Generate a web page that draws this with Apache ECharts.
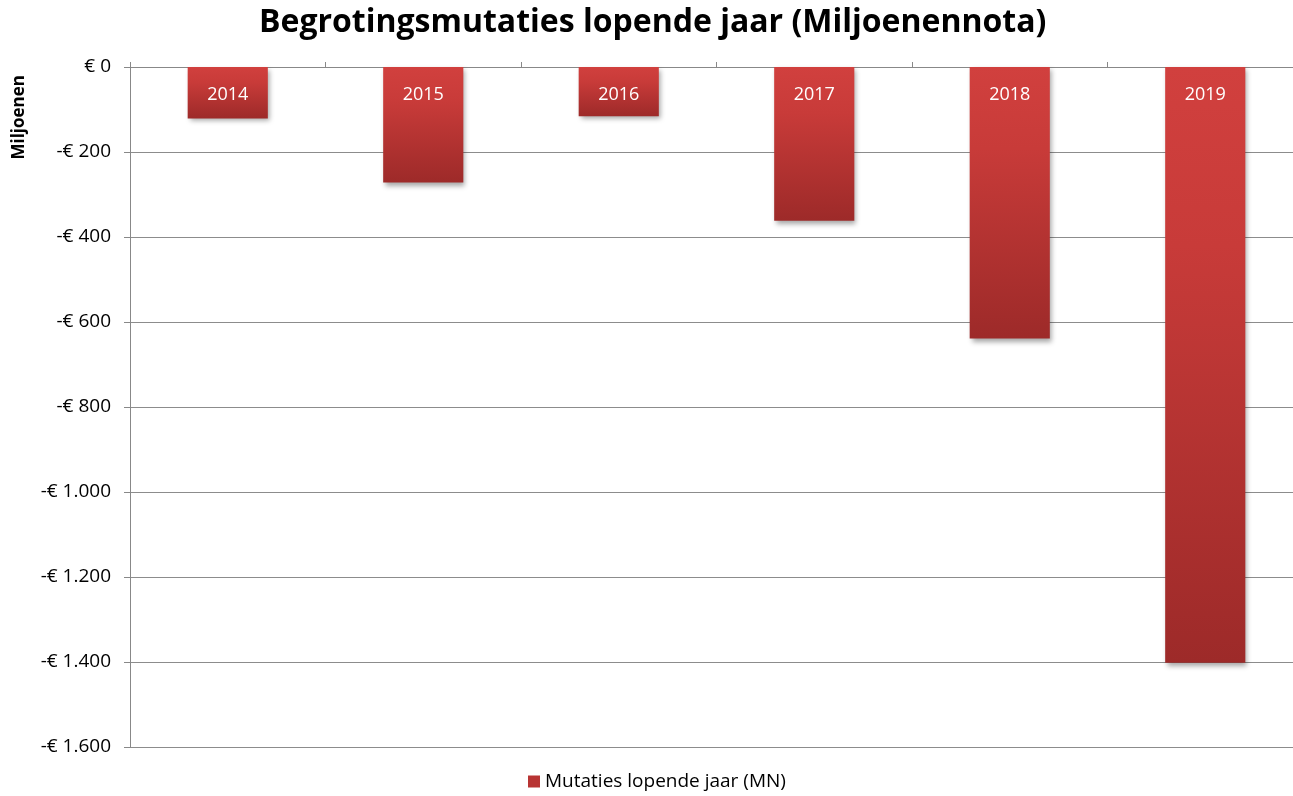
<!DOCTYPE html>
<html>
<head>
<meta charset="utf-8">
<script src="https://cdn.jsdelivr.net/npm/echarts@6/dist/echarts.min.js"></script>
<style>
html,body{margin:0;padding:0;background:#fff;}
#chart{width:1293px;height:796px;}
</style>
</head>
<body>
<div id="chart"></div>
<script>
const categories = ['2014', '2015', '2016', '2017', '2018', '2019'];
const mutaties = [-121, -272, -116, -362, -639, -1402];
const seriesName = 'Mutaties lopende jaar (MN)';
const titleText = 'Begrotingsmutaties lopende jaar (Miljoenennota)';
const yAxisName = 'Miljoenen';

function fmt(v) {
  if (v === 0) return '€ 0';
  const a = Math.abs(v);
  const s = a >= 1000 ? Math.floor(a / 1000) + '.' + String(a % 1000).padStart(3, '0') : String(a);
  return (v < 0 ? '-' : '') + '€ ' + s;
}

const chart = echarts.init(document.getElementById('chart'));
const barColor = new echarts.graphic.LinearGradient(0, 0, 0, 1, [
  { offset: 0, color: '#D1403E' },
  { offset: 0.3, color: '#C83B39' },
  { offset: 1, color: '#9D2A29' }
]);
chart.setOption({
  animation: false,
  title: {
    text: titleText,
    left: 254,
    top: 2,
    textStyle: { fontFamily: 'Open Sans', fontWeight: 'bold', fontSize: 32, color: '#000' }
  },
  legend: {
    bottom: 0,
    left: 523,
    itemWidth: 12,
    itemHeight: 12,
    itemGap: 6,
    icon: 'rect',
    textStyle: { fontFamily: 'Open Sans', fontSize: 19, color: '#000' },
    data: [{ name: seriesName, itemStyle: { color: '#B83433' } }]
  },
  graphic: [{
    type: 'text',
    left: 11,
    top: 75,
    rotation: Math.PI / 2,
    style: { text: yAxisName, fontFamily: 'Open Sans', fontWeight: 'bold', fontSize: 17, fill: '#000' }
  }],
  grid: { left: 130, width: 1173, top: 67, bottom: 49, containLabel: false, outerBoundsMode: 'none' },
  xAxis: {
    type: 'category',
    position: 'top',
    data: categories,
    axisLine: { lineStyle: { color: '#888', width: 1 } },
    axisTick: { show: true, length: 5, lineStyle: { color: '#888' } },
    axisLabel: { show: false }
  },
  yAxis: {
    type: 'value',
    min: -1600,
    max: 0,
    interval: 200,
    axisLine: { show: true, lineStyle: { color: '#888', width: 1 } },
    axisTick: { show: true, length: 6, lineStyle: { color: '#888' } },
    splitLine: { show: true, lineStyle: { color: '#8c8c8c', width: 1 } },
    axisLabel: {
      formatter: fmt,
      fontFamily: 'Open Sans',
      fontSize: 19,
      color: '#000',
      margin: 19
    }
  },
  series: [{
    name: seriesName,
    type: 'bar',
    data: mutaties,
    barWidth: '41%',
    itemStyle: {
      color: barColor,
      shadowColor: 'rgba(0,0,0,0.35)',
      shadowBlur: 5,
      shadowOffsetX: 2,
      shadowOffsetY: 3
    },
    label: {
      show: true,
      position: 'insideTop',
      distance: 19,
      formatter: (p) => p.name,
      color: '#fff',
      fontFamily: 'Open Sans',
      fontSize: 18
    }
  }]
});
</script>
</body>
</html>
